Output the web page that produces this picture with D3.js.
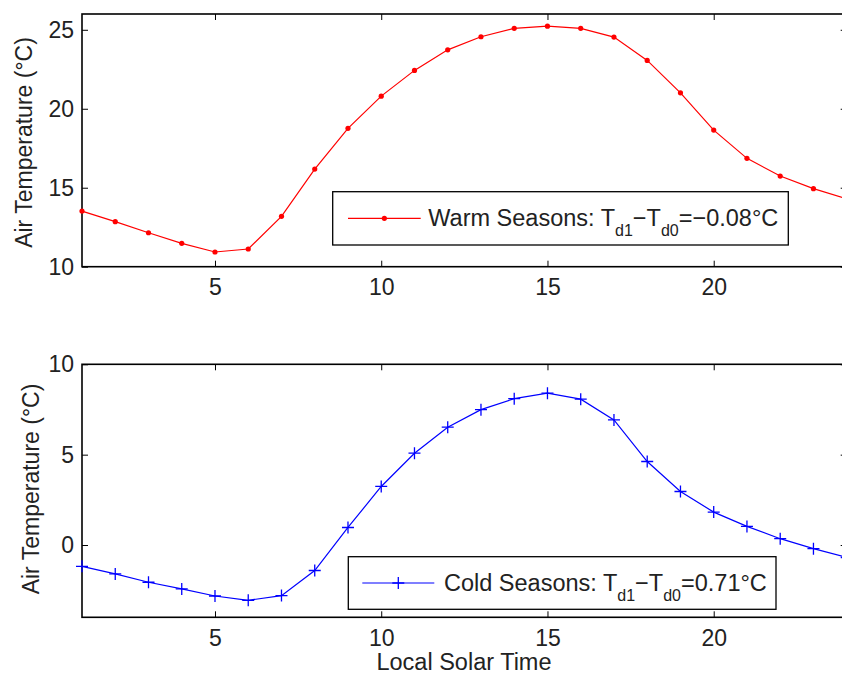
<!DOCTYPE html>
<html>
<head>
<meta charset="utf-8">
<script src="https://cdn.jsdelivr.net/npm/d3@7"></script>
<style>
  html, body { margin: 0; padding: 0; background: #fff; }
  svg { display: block; }
  text { font-family: "Liberation Sans", Arial, Helvetica, sans-serif; fill: #222; }
</style>
</head>
<body>
<svg id="chart" width="842" height="674"></svg>
<script>
// ---- data ----
const hours = [1,2,3,4,5,6,7,8,9,10,11,12,13,14,15,16,17,18,19,20,21,22,23,24];
const warmTemps = [13.52,12.85,12.15,11.48,10.93,11.12,13.19,16.18,18.76,20.80,22.43,23.73,24.56,25.09,25.23,25.09,24.54,23.06,21.01,18.65,16.86,15.74,14.94,14.30];
const coldTemps = [-1.18,-1.60,-2.06,-2.43,-2.82,-3.06,-2.80,-1.41,0.97,3.24,5.08,6.52,7.49,8.10,8.40,8.07,6.92,4.62,2.96,1.82,1.03,0.35,-0.20,-0.69];
const xTicks = [5,10,15,20];
const warmYTicks = [10,15,20,25];
const coldYTicks = [0,5,10];
const warmDomain = [10,26];
const coldDomain = [-4,10];
const warmLabel = {pre: "Warm Seasons: T", s1: "d1", mid: "\u2212T", s2: "d0", post: "=\u22120.08\u00B0C"};
const coldLabel = {pre: "Cold Seasons: T", s1: "d1", mid: "\u2212T", s2: "d0", post: "=0.71\u00B0C"};
const yTitle = "Air Temperature (\u00B0C)";
const xTitle = "Local Solar Time";

const svg = d3.select("#chart");
const x = d3.scaleLinear().domain([1,24]).range([82, 846.7]);

function panel(opts) {
  const y = d3.scaleLinear().domain(opts.domain).range([opts.bottom, opts.top]);
  const g = svg.append("g");
  const tickFont = "23px";

  const ax = [
    g.append("g").attr("transform", `translate(0,${opts.bottom})`)
      .call(d3.axisBottom(x).tickValues(xTicks).tickSize(-6).tickPadding(12).tickFormat(d3.format("d"))),
    g.append("g").attr("transform", `translate(0,${opts.top})`)
      .call(d3.axisTop(x).tickValues(xTicks).tickSize(-6).tickFormat("")),
    g.append("g").attr("transform", `translate(${x.range()[0]},0)`)
      .call(d3.axisLeft(y).tickValues(opts.yTicks).tickSize(-6).tickPadding(8).tickFormat(d3.format("d"))),
    g.append("g").attr("transform", `translate(${x.range()[1]},0)`)
      .call(d3.axisRight(y).tickValues(opts.yTicks).tickSize(-6).tickFormat(""))
  ];
  ax.forEach(a => {
    a.select(".domain").remove();
    a.selectAll(".tick line").attr("stroke", "#000").attr("stroke-width", 1);
    a.selectAll(".tick text").style("font-size", tickFont).attr("fill", "#222");
  });

  g.append("rect")
    .attr("x", x.range()[0]).attr("y", opts.top)
    .attr("width", x.range()[1] - x.range()[0]).attr("height", opts.bottom - opts.top)
    .attr("fill", "none").attr("stroke", "#000").attr("stroke-width", 1.6);

  const line = d3.line().x((d,i) => x(hours[i])).y(d => y(d));
  g.append("path").datum(opts.values)
    .attr("d", line).attr("fill", "none").attr("stroke", opts.color).attr("stroke-width", 1.2);

  const drawMarker = (sel, cx, cy) => {
    if (opts.marker === "dot") {
      sel.append("circle").attr("cx", cx).attr("cy", cy).attr("r", 2.6).attr("fill", opts.color);
    } else {
      sel.append("path").attr("d", `M${cx-6},${cy}H${cx+6}M${cx},${cy-6}V${cy+6}`)
        .attr("stroke", opts.color).attr("stroke-width", 1.3).attr("fill", "none");
    }
  };
  const mg = g.append("g");
  opts.values.forEach((v,i) => drawMarker(mg, x(hours[i]), y(v)));

  g.append("text")
    .attr("transform", `translate(${opts.yTitleX},${opts.yTitleY}) rotate(-90)`)
    .attr("text-anchor", "middle").style("font-size", "23px").text(yTitle);

  const L = opts.legend;
  const lg = g.append("g");
  lg.append("rect").attr("x", L.x0).attr("y", L.y0).attr("width", L.x1 - L.x0).attr("height", L.y1 - L.y0)
    .attr("fill", "#fff").attr("stroke", "#000").attr("stroke-width", 1.3);
  const ly = (L.y0 + L.y1) / 2;
  lg.append("line").attr("x1", L.lx0).attr("x2", L.lx1).attr("y1", ly).attr("y2", ly)
    .attr("stroke", opts.color).attr("stroke-width", 1.2);
  drawMarker(lg, (L.lx0 + L.lx1)/2, ly);
  const t = lg.append("text").attr("x", L.tx).attr("y", L.ty).style("font-size", "23.5px");
  const lab = opts.label;
  t.append("tspan").text(lab.pre);
  t.append("tspan").attr("dy", 10).style("font-size", "16px").text(lab.s1);
  t.append("tspan").attr("dy", -10).text(lab.mid);
  t.append("tspan").attr("dy", 10).style("font-size", "16px").text(lab.s2);
  t.append("tspan").attr("dy", -10).text(lab.post);
  return g;
}

panel({
  domain: warmDomain, top: 14, bottom: 266.7, yTicks: warmYTicks, values: warmTemps,
  color: "#ff0000", marker: "dot", label: warmLabel, yTitleX: 32, yTitleY: 142.5,
  legend: {x0: 332.7, x1: 788.3, y0: 191.7, y1: 245, lx0: 348, lx1: 420.7, tx: 428.3, ty: 226}
});

panel({
  domain: coldDomain, top: 364.3, bottom: 617.3, yTicks: coldYTicks, values: coldTemps,
  color: "#0000ff", marker: "plus", label: coldLabel, yTitleX: 39, yTitleY: 489,
  legend: {x0: 348.3, x1: 776, y0: 556.7, y1: 609.3, lx0: 362.3, lx1: 434.3, tx: 444, ty: 591}
});

svg.append("text")
  .attr("x", 464).attr("y", 669.5)
  .attr("text-anchor", "middle").style("font-size", "23.5px").text(xTitle);
</script>
</body>
</html>
